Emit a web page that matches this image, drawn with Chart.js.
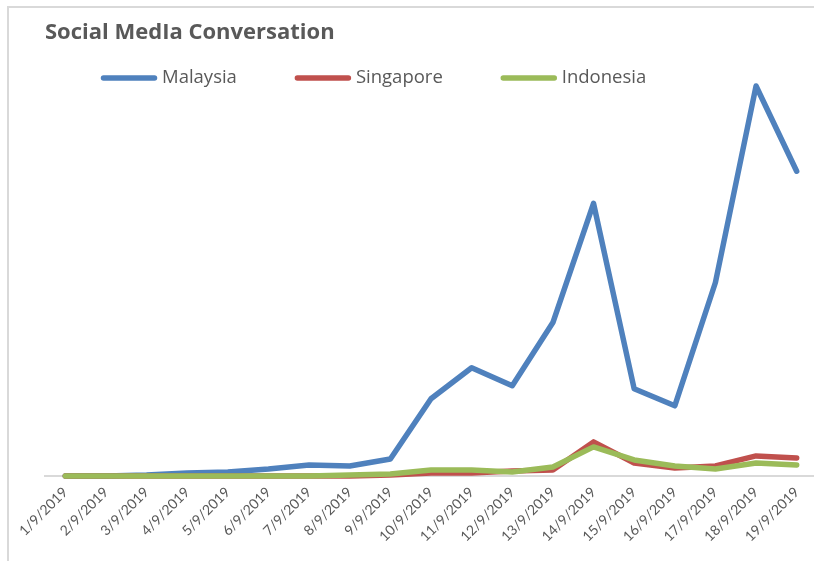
<!DOCTYPE html>
<html>
<head>
<meta charset="utf-8">
<script src="https://cdn.jsdelivr.net/npm/chart.js@4.4.0/dist/chart.umd.min.js"></script>
<style>
  html, body { margin: 0; padding: 0; background: #fff; overflow: hidden; width: 814px; height: 561px; }
  #frame { position: absolute; left: 7px; top: 6px; width: 900px; height: 700px;
           border-left: 2px solid #d9d9d9; border-top: 2px solid #d9d9d9; }
  #myChart { position: absolute; left: 0; top: 0; }
</style>
</head>
<body>
<div id="frame"></div>
<canvas id="myChart" width="836" height="561"></canvas>
<script>
// 日付ラベル
const labels = ['1/9/2019','2/9/2019','3/9/2019','4/9/2019','5/9/2019','6/9/2019','7/9/2019','8/9/2019','9/9/2019','10/9/2019',
  '11/9/2019','12/9/2019','13/9/2019','14/9/2019','15/9/2019','16/9/2019','17/9/2019','18/9/2019','19/9/2019'];

// 各国の値
const malaysia  = [0, 0, 1, 3, 4, 7, 11, 10, 17, 77, 108, 90, 153, 272, 87, 70, 193, 389, 304];
const singapore = [0, 0, 0, 0, 0, 0, 0, 0, 1, 3, 3, 5, 6, 34, 13, 8, 10, 20, 18];
const indonesia = [0, 0, 0, 0, 0, 0, 0, 1, 2, 6, 6, 4, 9, 29, 16, 10, 7, 13, 11];

const FONT = '"Open Sans", Lato, sans-serif';
const TEXT = '#595959';

function series(label, data, color, order) {
  return {
    label: label,
    data: data,
    borderColor: color,
    backgroundColor: color,
    borderWidth: 5.5,
    borderCapStyle: 'round',
    borderJoinStyle: 'round',
    pointRadius: 0,
    tension: 0,
    clip: false,
    order: order
  };
}

// Excel風の凡例（タイトルと描画領域の間に手描き）
const lineLegend = {
  id: 'lineLegend',
  afterDraw(chart) {
    const ctx = chart.ctx;
    const y = 78;
    let x = 101;
    ctx.save();
    ctx.font = '18.5px ' + FONT;
    ctx.textBaseline = 'middle';
    ctx.fillStyle = TEXT;
    chart.data.datasets.forEach(ds => {
      ctx.strokeStyle = ds.borderColor;
      ctx.lineWidth = 5.5;
      ctx.lineCap = 'round';
      ctx.beginPath();
      ctx.moveTo(x + 2.5, y);
      ctx.lineTo(x + 53.5, y);
      ctx.stroke();
      ctx.fillText(ds.label, x + 61, y);
      x += 61 + ctx.measureText(ds.label).width + 58;
    });
    ctx.restore();
  }
};

new Chart(document.getElementById('myChart'), {
  type: 'line',
  data: {
    labels: labels,
    datasets: [
      series('Malaysia', malaysia, '#4f81bd', 2),
      series('Singapore', singapore, '#c0504d', 1),
      series('Indonesia', indonesia, '#9bbb59', 0)
    ]
  },
  options: {
    responsive: false,
    animation: false,
    devicePixelRatio: 1,
    layout: { padding: { left: 45, right: 19, top: 20, bottom: 8 } },
    plugins: {
      title: {
        display: true,
        text: 'Social MedIa Conversation',
        align: 'start',
        color: TEXT,
        font: { family: FONT, size: 22, weight: 'bold', lineHeight: 1.2 },
        padding: { top: 0, bottom: 38.6 }
      },
      legend: { display: false },
      tooltip: { enabled: false }
    },
    scales: {
      x: {
        offset: true,
        grid: { display: false, drawTicks: false },
        border: { color: '#d9d9d9', width: 2 },
        ticks: {
          color: TEXT,
          font: { family: 'Lato, sans-serif', size: 14 },
          minRotation: 45,
          maxRotation: 45,
          autoSkip: false,
          padding: 8
        }
      },
      y: {
        display: false,
        min: 0,
        max: 390
      }
    }
  },
  plugins: [lineLegend]
});
</script>
</body>
</html>
